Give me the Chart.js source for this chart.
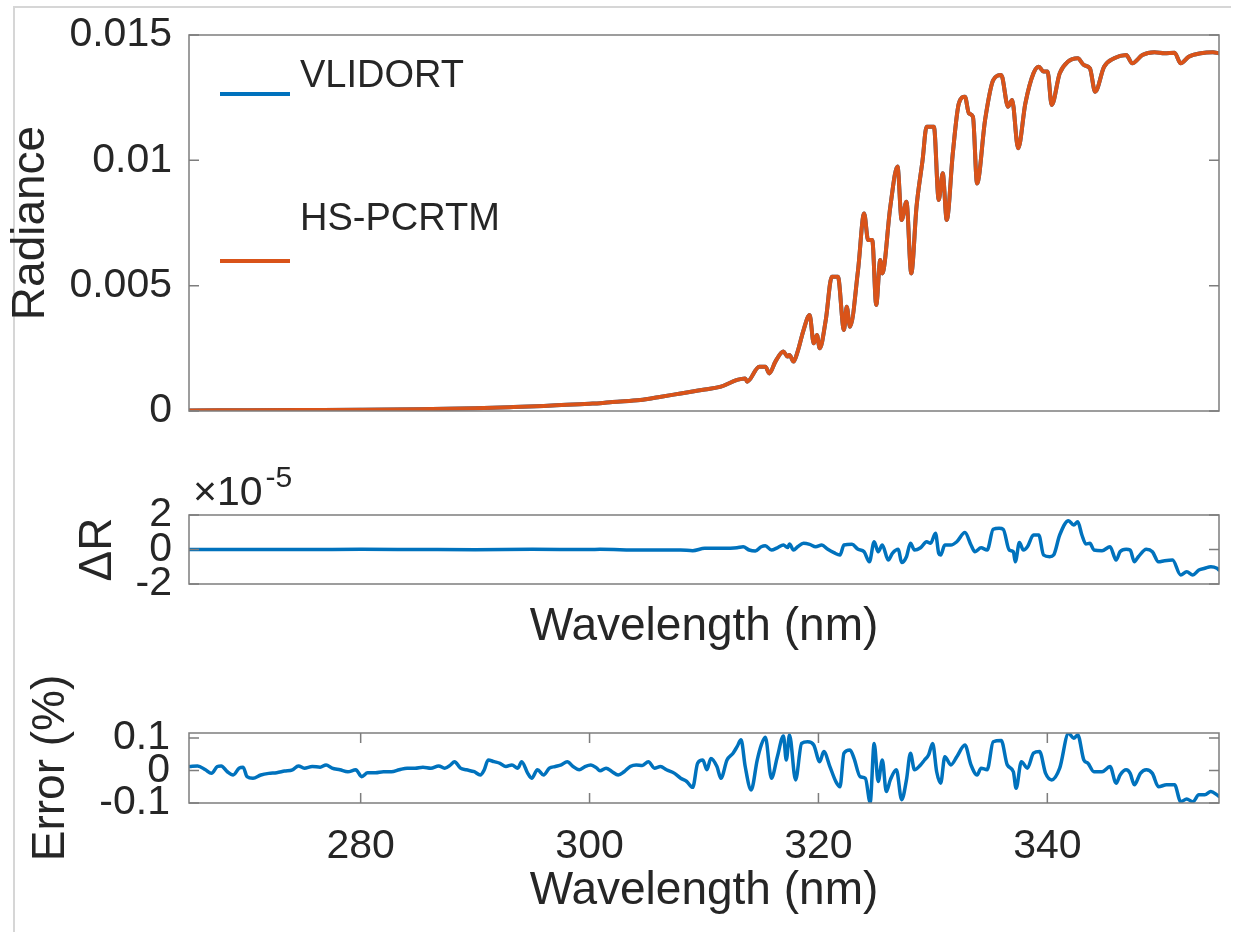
<!DOCTYPE html>
<html>
<head>
<meta charset="utf-8">
<title>Radiance comparison</title>
<script src="https://cdn.jsdelivr.net/npm/chart.js@4.4.1/dist/chart.umd.min.js"></script>
<style>
  html, body { margin: 0; padding: 0; background: #ffffff; }
  #page { position: relative; width: 1241px; height: 932px; overflow: hidden; background: #ffffff; }
  #page canvas { position: absolute; left: 0; }
  #frame { position: absolute; left: 13px; top: 6px; width: 1216px; height: 930px;
           border-left: 2px solid #d6d6d6; border-top: 2px solid #d6d6d6; }
</style>
</head>
<body>
<div id="page">
  <div id="frame"></div>
  <canvas id="radChart" width="1241" height="450" style="top:0px"></canvas>
  <canvas id="dRChart" width="1241" height="220" style="top:450px"></canvas>
  <canvas id="errChart" width="1241" height="262" style="top:670px"></canvas>
</div>
<script>
// ---- axis ranges and tick labels ----
const X_MIN = 265, X_MAX = 355;
const xTickValues = [280, 300, 320, 340];
const radianceTicks = [0, 0.005, 0.01, 0.015];
const radianceTickLabels = ['0', '0.005', '0.01', '0.015'];
const deltaTicks = [-2, 0, 2];             // in units of 1e-5
const deltaTickLabels = ['-2', '0', '2'];
const errorTicks = [-0.1, 0, 0.1];
const errorTickLabels = ['-0.1', '0', '0.1'];
const seriesNames = ['VLIDORT', 'HS-PCRTM'];

// ---- radiance spectrum (both models coincide at this scale) ----
const radianceWl = [
  265, 270, 275, 280, 285, 290, 293, 296, 298, 300,
  300.91, 302, 304.43, 306, 307.96, 309, 310.07, 311.48, 312.89, 313.6,
  313.77, 314.83, 315.36, 315.71, 316.24, 316.94, 317.3, 317.47, 317.82, 318.18,
  318.7, 319.23, 319.59, 319.87, 320.11, 320.64, 321.17, 321.7, 322.23, 322.47,
  322.76, 323.46, 323.99, 324.34, 324.7, 325.05, 325.4, 325.58, 326.28, 326.91,
  327.27, 327.69, 328.11, 328.57, 329.1, 329.45, 330.09, 330.51, 330.86, 331.21,
  331.74, 332.27, 332.8, 333.15, 333.5, 333.86, 334.56, 335.27, 335.97, 336.57,
  336.92, 337.45, 338.08, 338.79, 339.25, 339.67, 340.02, 340.38, 341.08, 341.79,
  342.66, 343.19, 343.72, 344.18, 344.96, 345.84, 346.89, 347.42, 348.3, 349.36,
  350.24, 351.12, 351.65, 352.35, 353.41, 354.47, 355
];
const radianceVLIDORT = [
  0.00002, 0.00003, 0.00004, 0.00005, 0.00007, 0.00011, 0.00015, 0.00020, 0.00025, 0.00029,
  0.00031, 0.00036, 0.00044, 0.00055, 0.00070, 0.00078, 0.00086, 0.00097, 0.00124, 0.00130,
  0.00117, 0.00177, 0.00177, 0.00150, 0.00197, 0.00237, 0.00217, 0.00223, 0.00197, 0.00237,
  0.00323, 0.00383, 0.00270, 0.00303, 0.00250, 0.00363, 0.00536, 0.00536, 0.00323, 0.00416,
  0.00336, 0.00562, 0.00788, 0.00682, 0.00682, 0.00423, 0.00602, 0.00549, 0.00815, 0.00975,
  0.00762, 0.00835, 0.00549, 0.00815, 0.01001, 0.01134, 0.01134, 0.00842, 0.00948, 0.00762,
  0.01028, 0.01227, 0.01254, 0.01187, 0.01174, 0.00908, 0.01161, 0.01320, 0.01340, 0.01214,
  0.01241, 0.01048, 0.01227, 0.01347, 0.01373, 0.01354, 0.01354, 0.01221, 0.01347, 0.01393,
  0.01407, 0.01380, 0.01367, 0.01274, 0.01373, 0.01407, 0.01420, 0.01387, 0.01420, 0.01431,
  0.01427, 0.01429, 0.01387, 0.01413, 0.01427, 0.01431, 0.01427
];
const radianceHSPCRTM = radianceVLIDORT.slice();

// ---- radiance difference, units of 1e-5 ----
const deltaWl = [
  265, 270, 275, 280, 285, 290, 295, 300, 300.91, 304.43,
  307.96, 309.01, 310.07, 311.48, 312.89, 313.42, 313.95, 314.48, 315.0, 315.36,
  315.89, 316.41, 316.94, 317.3, 317.47, 317.82, 318.18, 318.7, 319.23, 319.76,
  320.29, 320.82, 321.35, 321.88, 322.23, 322.93, 323.46, 323.99, 324.45, 324.87,
  325.22, 325.58, 326.1, 326.46, 326.98, 327.27, 327.69, 328.04, 328.39, 328.92,
  329.45, 329.8, 330.23, 330.51, 330.68, 331.04, 331.57, 332.09, 332.8, 333.33,
  333.68, 334.21, 334.74, 335.27, 335.79, 336.15, 336.67, 337.03, 337.2, 337.56,
  337.91, 338.26, 338.79, 339.25, 339.67, 340.2, 340.55, 341.08, 341.85, 342.31,
  342.66, 343.02, 343.37, 343.72, 344.07, 344.78, 345.48, 346.01, 346.36, 346.89,
  347.24, 347.6, 347.95, 348.65, 349.18, 349.71, 350.24, 350.94, 351.65, 352.18,
  352.71, 353.24, 353.76, 354.29, 354.82, 355
];
const deltaR = [
  0, 0, 0, 0.01, 0, -0.01, 0.01, 0, 0.01, -0.03,
  -0.03, -0.07, 0.07, 0.07, 0.10, 0.16, -0.03, -0.09, 0.16, 0.22,
  -0.03, 0.10, 0.26, 0.11, 0.32, -0.03, 0.16, 0.36, 0.30, 0.16,
  0.26, 0.01, -0.18, -0.32, 0.26, 0.30, 0.01, -0.13, -0.71, 0.45,
  -0.13, 0.26, -0.61, -0.22, 0.01, -0.76, -0.42, 0.36, -0.03, 0.10,
  0.45, 0.36, 0.94, -0.22, -0.32, 0.26, 0.26, 0.45, 0.98, 0.26,
  -0.13, 0.10, -0.03, 1.17, 1.23, 1.17, -0.03, -0.13, -0.71, 0.40,
  -0.03, 0.16, 0.84, 0.84, -0.32, -0.42, -0.32, 0.84, 1.67, 1.42,
  1.61, 0.84, 0.32, 0.36, -0.03, -0.07, 0.16, -0.61, -0.13, 0.01,
  -0.03, -0.71, -0.42, 0.01, -0.13, -0.71, -0.65, -0.61, -1.48, -1.29,
  -1.48, -1.19, -1.09, -1.00, -1.09, -1.19
];

// ---- relative error in percent ----
const errorWl = [
  265.06, 265.75, 266.44, 266.96, 267.48, 267.82, 268.35, 268.86, 269.38, 269.73,
  270.07, 270.59, 271.28, 271.97, 272.66, 273.35, 274.04, 274.56, 275.08, 275.77,
  276.46, 276.98, 277.5, 278.19, 278.88, 279.57, 280.09, 280.61, 281.3, 281.99,
  282.68, 283.37, 284.06, 284.75, 285.44, 286.13, 286.82, 287.34, 287.86, 288.2,
  288.72, 289.24, 289.93, 290.45, 290.8, 291.14, 291.66, 292.18, 292.69, 293.22,
  293.73, 294.07, 294.6, 294.94, 295.45, 295.98, 296.49, 297.01, 297.53, 298.05,
  298.56, 299.09, 299.6, 300.12, 300.63, 300.91, 301.44, 301.97, 302.5, 303.02,
  303.55, 304.08, 304.61, 305.14, 305.67, 306.2, 306.72, 307.43, 307.96, 308.49,
  309.01, 309.44, 309.9, 310.25, 310.6, 311.13, 311.48, 312.01, 312.54, 312.89,
  313.24, 313.6, 314.12, 314.65, 315.0, 315.36, 315.89, 316.41, 316.94, 317.19,
  317.47, 318.0, 318.53, 319.06, 319.59, 320.11, 320.47, 321.0, 321.52, 321.88,
  322.23, 322.76, 323.11, 323.64, 324.1, 324.52, 324.87, 325.22, 325.58, 325.93,
  326.28, 326.81, 327.27, 327.69, 328.04, 328.39, 328.92, 329.27, 329.63, 329.98,
  330.33, 330.68, 331.04, 331.57, 332.09, 332.8, 333.33, 333.86, 334.21, 334.74,
  335.27, 335.97, 336.5, 337.03, 337.27, 337.73, 338.26, 338.79, 339.32, 339.85,
  340.38, 341.08, 341.85, 342.31, 342.66, 343.19, 343.55, 344.07, 344.78, 345.48,
  346.01, 346.36, 346.89, 347.24, 347.6, 348.13, 348.65, 349.18, 349.71, 350.42,
  351.12, 351.65, 352.18, 352.71, 353.24, 353.76, 354.29, 354.82, 355
];
const errorPct = [
  0.012, 0.014, 0.002, -0.009, 0.012, 0.014, -0.004, -0.014, 0.007, 0.010,
  -0.019, -0.024, -0.014, -0.009, -0.007, -0.002, 0.002, 0.014, 0.007, 0.012,
  0.010, 0.017, 0.007, 0.002, -0.004, 0.002, -0.019, -0.007, -0.007, -0.004,
  -0.004, 0.002, 0.007, 0.007, 0.010, 0.007, 0.014, 0.007, 0.017, 0.027,
  0.007, 0.002, -0.004, -0.014, 0.002, 0.032, 0.027, 0.022, 0.012, 0.017,
  0.007, 0.027, -0.009, -0.024, 0.002, -0.014, 0.007, 0.012, 0.017, 0.027,
  0.012, 0.002, 0.012, 0.017, 0.007, -0.001, 0.007, -0.004, -0.014, -0.004,
  0.012, 0.017, 0.015, 0.027, 0.007, 0.012, 0.002, -0.009, -0.024, -0.034,
  -0.052, 0.022, 0.032, 0.002, 0.037, 0.012, -0.024, 0.032, 0.053, 0.073,
  0.094, 0.012, -0.060, 0.032, 0.078, 0.102, -0.024, 0.042, 0.106, 0.032,
  0.109, -0.029, 0.083, 0.088, 0.078, 0.027, 0.058, 0.012, -0.034, -0.050,
  0.053, 0.063, 0.037, -0.019, -0.024, -0.098, 0.083, -0.034, 0.032, -0.065,
  -0.029, 0.002, -0.090, -0.029, 0.053, 0.002, 0.017, 0.032, 0.048, 0.083,
  -0.004, -0.039, 0.042, 0.017, 0.042, 0.078, 0.017, -0.014, 0.007, 0.002,
  0.088, 0.092, 0.017, -0.004, -0.055, 0.027, 0.007, 0.053, 0.058, -0.009,
  -0.029, 0.007, 0.114, 0.099, 0.109, 0.032, 0.022, -0.004, -0.004, 0.012,
  -0.039, -0.014, 0.002, -0.009, -0.044, -0.009, 0.002, -0.009, -0.050, -0.044,
  -0.044, -0.096, -0.088, -0.096, -0.075, -0.075, -0.065, -0.075, -0.080
];

// ---- styling ----
const FONT = "'Liberation Sans', Arial, Helvetica, sans-serif";
const INK = '#262626';
const BLUE = '#0072BD';
const ORANGE = '#D95319';
const BOX = '#7d7d7d';

const toPoints = (xs, ys) => xs.map((x, i) => ({ x: x, y: ys[i] }));

// Box around the plot area plus inward-pointing tick marks on all sides
const axesFrame = {
  id: 'axesFrame',
  afterDatasetsDraw(chart, args, o) {
    const { ctx, chartArea: a, scales } = chart;
    ctx.save();
    ctx.strokeStyle = o.color;
    ctx.lineWidth = o.width;
    ctx.strokeRect(a.left, a.top, a.right - a.left, a.bottom - a.top);
    ctx.beginPath();
    (o.yTicks || []).forEach(v => {
      const y = scales.y.getPixelForValue(v);
      ctx.moveTo(a.left, y); ctx.lineTo(a.left + o.len, y);
      ctx.moveTo(a.right, y); ctx.lineTo(a.right - o.len, y);
    });
    (o.xTicks || []).forEach(v => {
      const x = scales.x.getPixelForValue(v);
      ctx.moveTo(x, a.bottom); ctx.lineTo(x, a.bottom - o.len);
      ctx.moveTo(x, a.top); ctx.lineTo(x, a.top + o.len);
    });
    ctx.stroke();
    ctx.restore();
  }
};

// Legend inside the radiance panel: sample line below-left of each name
const sideLegend = {
  id: 'sideLegend',
  afterDatasetsDraw(chart, args, o) {
    const { ctx, chartArea: a } = chart;
    ctx.save();
    ctx.font = o.size + 'px ' + FONT;
    ctx.textBaseline = 'alphabetic';
    ctx.textAlign = 'left';
    o.rows.forEach(r => {
      const ds = chart.data.datasets.find(d => d.label === r.label);
      ctx.strokeStyle = ds.borderColor;
      ctx.lineWidth = 4;
      ctx.beginPath();
      ctx.moveTo(a.left + o.lineX0, a.top + r.lineY);
      ctx.lineTo(a.left + o.lineX1, a.top + r.lineY);
      ctx.stroke();
      ctx.fillStyle = INK;
      ctx.fillText(r.label, a.left + o.textX, a.top + r.textY);
    });
    ctx.restore();
  }
};

// Axis multiplier written above the top-left corner of the plot area
const axisExponent = {
  id: 'axisExponent',
  afterDraw(chart, args, o) {
    const { ctx, chartArea: a } = chart;
    ctx.save();
    ctx.fillStyle = INK;
    ctx.textBaseline = 'alphabetic';
    ctx.textAlign = 'left';
    ctx.font = o.size + 'px ' + FONT;
    const x0 = a.left + o.dx;
    ctx.fillText(o.base, x0, a.top - o.baseRise);
    const w = ctx.measureText(o.base).width;
    ctx.font = o.supSize + 'px ' + FONT;
    ctx.fillText(o.exponent, x0 + w + 3, a.top - o.supRise);
    ctx.restore();
  }
};

function yAxis(min, max, values, labels, title, titlePad, labelPad) {
  return {
    type: 'linear', position: 'left', min: min, max: max,
    afterFit: s => {
      s.width = 189;
      // end labels may overhang the plot area; the layout padding covers them
      s.paddingTop = 0;
      s.paddingBottom = 0;
    },
    afterBuildTicks: s => { s.ticks = values.map(v => ({ value: v })); },
    ticks: {
      callback: (v, i) => labels[i],
      font: { family: FONT, size: 41 }, color: INK,
      padding: labelPad, autoSkip: false, maxRotation: 0
    },
    grid: { display: false, drawTicks: false },
    border: { display: false },
    title: {
      display: true, text: title, color: INK,
      font: { family: FONT, size: 46 },
      padding: { top: titlePad, bottom: 0 }
    }
  };
}

function xAxis(cfg) {
  return {
    type: 'linear', position: 'bottom', min: X_MIN, max: X_MAX,
    display: cfg.display,
    afterFit: s => {
      s.height = cfg.height;
      s.paddingLeft = 0;
      s.paddingRight = 0;
    },
    afterBuildTicks: s => { s.ticks = xTickValues.map(v => ({ value: v })); },
    ticks: {
      display: cfg.labels,
      callback: (v, i) => String(xTickValues[i]),
      font: { family: FONT, size: 41 }, color: INK,
      padding: 19, autoSkip: false, maxRotation: 0
    },
    grid: { display: false, drawTicks: false },
    border: { display: false },
    title: {
      display: cfg.title, text: 'Wavelength (nm)', color: INK,
      font: { family: FONT, size: 46 },
      padding: { top: 0, bottom: cfg.titlePad }
    }
  };
}

function lineSet(label, xs, ys, color, width, order) {
  return {
    label: label, data: toPoints(xs, ys), borderColor: color, backgroundColor: color,
    borderWidth: width, pointRadius: 0, fill: false, order: order,
    cubicInterpolationMode: 'monotone',
    borderJoinStyle: 'round', borderCapStyle: 'round'
  };
}

const common = {
  responsive: false, animation: false, devicePixelRatio: 1, events: []
};

// Radiance panel
new Chart(document.getElementById('radChart'), {
  type: 'line',
  data: {
    datasets: [
      lineSet(seriesNames[0], radianceWl, radianceVLIDORT, BLUE, 4, 1),
      lineSet(seriesNames[1], radianceWl, radianceHSPCRTM, ORANGE, 4, 0)
    ]
  },
  options: Object.assign({}, common, {
    layout: { padding: { top: 35, right: 22, bottom: 39, left: 0 } },
    scales: {
      x: xAxis({ display: false, height: 0, labels: false, title: false, titlePad: 0 }),
      y: yAxis(0, 0.015, radianceTicks, radianceTickLabels, 'Radiance', 4, 17)
    },
    plugins: {
      legend: { display: false }, tooltip: { enabled: false },
      axesFrame: { color: BOX, width: 1.5, len: 10, yTicks: radianceTicks, xTicks: [] },
      sideLegend: {
        size: 38, lineX0: 31, lineX1: 101, textX: 111,
        rows: [
          { label: seriesNames[0], lineY: 59, textY: 52 },
          { label: seriesNames[1], lineY: 226, textY: 195 }
        ]
      }
    }
  }),
  plugins: [axesFrame, sideLegend]
});

// Radiance difference panel
new Chart(document.getElementById('dRChart'), {
  type: 'line',
  data: { datasets: [ lineSet('dR', deltaWl, deltaR, BLUE, 3.5, 0) ] },
  options: Object.assign({}, common, {
    layout: { padding: { top: 65, right: 22, bottom: 0, left: 0 } },
    scales: {
      x: xAxis({ display: true, height: 86, labels: false, title: true, titlePad: 15 }),
      y: yAxis(-2, 2, deltaTicks, deltaTickLabels, '\u0394R', 71, 17)
    },
    plugins: {
      legend: { display: false }, tooltip: { enabled: false },
      axesFrame: { color: BOX, width: 1.5, len: 10, yTicks: deltaTicks, xTicks: [] },
      axisExponent: { base: '\u00d710', exponent: '-5', size: 41, supSize: 30, dx: 4, baseRise: 10, supRise: 28 }
    }
  }),
  plugins: [axesFrame, axisExponent]
});

// Relative error panel
new Chart(document.getElementById('errChart'), {
  type: 'line',
  data: { datasets: [ lineSet('err', errorWl, errorPct, BLUE, 3.5, 0) ] },
  options: Object.assign({}, common, {
    layout: { padding: { top: 63, right: 22, bottom: 0, left: 0 } },
    scales: {
      x: xAxis({ display: true, height: 129, labels: true, title: true, titlePad: 13 }),
      y: yAxis(-0.1, 0.115, errorTicks, errorTickLabels, 'Error (%)', 24, 19)
    },
    plugins: {
      legend: { display: false }, tooltip: { enabled: false },
      axesFrame: { color: BOX, width: 1.5, len: 10, yTicks: errorTicks, xTicks: xTickValues }
    }
  }),
  plugins: [axesFrame]
});
</script>
</body>
</html>
